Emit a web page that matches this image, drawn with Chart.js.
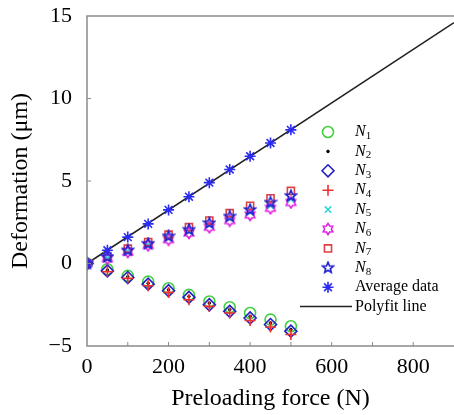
<!DOCTYPE html>
<html>
<head>
<meta charset="utf-8">
<script src="https://cdn.jsdelivr.net/npm/chart.js@4"></script>
<style>
  html, body { margin: 0; padding: 0; background: #fff; overflow: hidden; }
</style>
</head>
<body>
<canvas id="c" width="454" height="415"></canvas>
<script>
// preloading force (N)
const force = [0, 50, 100, 150, 200, 250, 300, 350, 400, 450, 500];
// deformation (um) of each unit
const n1 = [0, -0.35, -0.75, -1.1, -1.5, -1.9, -2.3, -2.65, -3.0, -3.4, -3.8];
const n2 = [0, -0.4, -0.8, -1.2, -1.6, -2.0, -2.4, -2.8, -3.2, -3.6, -4.0];
const n3 = [0, -0.45, -0.85, -1.25, -1.65, -2.05, -2.5, -2.9, -3.3, -3.7, -4.1];
const n4 = [0, -0.5, -0.9, -1.35, -1.75, -2.2, -2.6, -3.0, -3.45, -3.85, -4.3];
const n5 = [0, 0.35, 0.75, 1.15, 1.55, 1.95, 2.35, 2.75, 3.1, 3.5, 3.9];
const n6 = [0, 0.3, 0.7, 1.1, 1.45, 1.85, 2.2, 2.6, 2.95, 3.35, 3.7];
const n7 = [0, 0.45, 0.9, 1.3, 1.75, 2.2, 2.6, 3.05, 3.5, 3.95, 4.4];
const n8 = [0, 0.4, 0.8, 1.2, 1.65, 2.05, 2.45, 2.85, 3.25, 3.7, 4.1];
const average = [0, 0.8, 1.6, 2.4, 3.25, 4.05, 4.9, 5.7, 6.5, 7.3, 8.1];
// fitted line end points
const fitX = [0, 900];
const fitY = [0, 14.6];
const yTicks = [-5, 0, 5, 10, 15];

const SERIF = '"Liberation Serif", "Times New Roman", serif';

function marker(size, draw) {
  const cv = document.createElement("canvas");
  cv.width = size; cv.height = size;
  const g = cv.getContext("2d");
  draw(g, size / 2);
  return cv;
}
function starPath(g, c, ro, ri, n, rot) {
  g.beginPath();
  for (let i = 0; i < n * 2; i++) {
    const r = i % 2 ? ri : ro;
    const a = rot + i * Math.PI / n;
    const px = c + r * Math.cos(a), py = c + r * Math.sin(a);
    i ? g.lineTo(px, py) : g.moveTo(px, py);
  }
  g.closePath();
}
const hexagram = marker(14, (g, c) => {
  starPath(g, c, 5.5, 3.4, 6, -Math.PI / 2);
  g.strokeStyle = "#e020e0"; g.lineWidth = 1.6; g.stroke();
});
const pentagram = marker(14, (g, c) => {
  starPath(g, c, 5.6, 2.5, 5, -Math.PI / 2);
  g.strokeStyle = "#2020d0"; g.lineWidth = 1.6; g.stroke();
});

const pts = ys => force.map((x, i) => ({ x: x, y: ys[i] }));

const series = [
  { label: "N1", data: pts(n1), pointStyle: "circle", radius: 5.5, borderColor: "#40d040", borderWidth: 1.6 },
  { label: "N2", data: pts(n2), pointStyle: "circle", radius: 1.3, borderColor: "#000", backgroundColor: "#000", borderWidth: 1 },
  { label: "N3", data: pts(n3), pointStyle: "rectRot", radius: 6, borderColor: "#2020c0", borderWidth: 1.6 },
  { label: "N4", data: pts(n4), pointStyle: "cross", radius: 5.5, borderColor: "#f03030", borderWidth: 1.6 },
  { label: "N5", data: pts(n5), pointStyle: "crossRot", radius: 4.5, borderColor: "#30d8d8", borderWidth: 1.6 },
  { label: "N6", data: pts(n6), pointStyle: hexagram, radius: 6, borderColor: "#e020e0" },
  { label: "N7", data: pts(n7), pointStyle: "rect", radius: 5, borderColor: "#e04040", borderWidth: 1.6 },
  { label: "N8", data: pts(n8), pointStyle: pentagram, radius: 6, borderColor: "#2020d0" },
  { label: "Average data", data: pts(average), pointStyle: "star", radius: 5.5, borderColor: "#2a2af0", borderWidth: 1.6 }
];

const datasets = series.map((s, i) => ({
  type: "scatter",
  label: s.label,
  data: s.data,
  pointStyle: s.pointStyle,
  pointRadius: s.radius,
  pointBorderColor: s.borderColor,
  pointBackgroundColor: s.backgroundColor || "rgba(0,0,0,0)",
  pointBorderWidth: s.borderWidth || 1,
  order: 20 - i
}));
datasets.push({
  type: "line",
  label: "Polyfit line",
  data: fitX.map((x, i) => ({ x: x, y: fitY[i] })),
  borderColor: "#222",
  borderWidth: 1.5,
  pointRadius: 0,
  order: 30
});

// frame, inward ticks and the legend with subscripts
const decor = {
  id: "decor",
  afterDraw(chart) {
    const { ctx, chartArea: a, scales: { x, y } } = chart;
    ctx.save();
    ctx.strokeStyle = "#8a8a8a";
    ctx.lineWidth = 1.5;
    ctx.beginPath();
    ctx.moveTo(a.right, a.top); ctx.lineTo(a.left, a.top);
    ctx.lineTo(a.left, a.bottom); ctx.lineTo(a.right, a.bottom);
    ctx.stroke();
    ctx.lineWidth = 1;
    ctx.beginPath();
    for (let v = 100; v < 900; v += 100) {
      const px = x.getPixelForValue(v);
      ctx.moveTo(px, a.bottom); ctx.lineTo(px, a.bottom - 4);
    }
    yTicks.slice(1, -1).forEach(v => {
      const py = y.getPixelForValue(v);
      ctx.moveTo(a.left, py); ctx.lineTo(a.left + 4, py);
    });
    ctx.stroke();

    // legend
    const lx = 328, tx = 355, top = 132, step = 19.4;
    ctx.fillStyle = "#fff";
    ctx.fillRect(314, 120, 140, 200);
    series.forEach((s, i) => {
      const cy = top + i * step;
      ctx.save();
      ctx.strokeStyle = s.borderColor;
      ctx.fillStyle = s.backgroundColor || "rgba(0,0,0,0)";
      ctx.lineWidth = s.borderWidth || 1;
      Chart.helpers.drawPoint(ctx, { pointStyle: s.pointStyle, radius: s.radius, rotation: 0, borderWidth: s.borderWidth || 1 }, lx, cy);
      ctx.restore();
      ctx.fillStyle = "#000";
      ctx.textBaseline = "middle";
      ctx.textAlign = "left";
      if (s.label[0] === "N") {
        ctx.font = "italic 16px " + SERIF;
        ctx.fillText("N", tx, cy);
        const w = ctx.measureText("N").width;
        ctx.font = "11px " + SERIF;
        ctx.fillText(s.label.slice(1), tx + w, cy + 4);
      } else {
        ctx.font = "16px " + SERIF;
        ctx.fillText(s.label, tx, cy);
      }
    });
    const ly = top + series.length * step;
    ctx.strokeStyle = "#222"; ctx.lineWidth = 1.5;
    ctx.beginPath(); ctx.moveTo(300, ly); ctx.lineTo(352, ly); ctx.stroke();
    ctx.font = "16px " + SERIF;
    ctx.fillStyle = "#000";
    ctx.fillText("Polyfit line", tx, ly);
    ctx.restore();
  }
};

new Chart(document.getElementById("c"), {
  data: { datasets: datasets },
  options: {
    responsive: false,
    animation: false,
    layout: { autoPadding: false, padding: { top: 16, right: 0, left: 0, bottom: 0 } },
    plugins: { legend: { display: false }, tooltip: { enabled: false } },
    scales: {
      x: {
        type: "linear",
        min: 0, max: 900,
        grid: { display: false },
        border: { display: false },
        ticks: {
          stepSize: 100, autoSkip: false, maxRotation: 0, padding: 0,
          color: "#000", font: { family: SERIF, size: 22 },
          callback: v => (v % 200 === 0 && v < 900 ? String(v) : "")
        },
        title: { display: true, text: "Preloading force (N)", color: "#000", font: { family: SERIF, size: 24 }, padding: { top: 0, bottom: 2 } },
        afterFit: s => { s.height = 69; s.paddingRight = 0; s.paddingLeft = 0; }
      },
      y: {
        type: "linear",
        min: -5, max: 15,
        grid: { display: false },
        border: { display: false },
        afterBuildTicks: s => { s.ticks = yTicks.map(v => ({ value: v })); },
        ticks: {
          padding: 7, color: "#000", font: { family: SERIF, size: 22 },
          callback: v => String(v).replace("-", "\u2212")
        },
        title: { display: true, text: "Deformation (\u03bcm)", color: "#000", font: { family: SERIF, size: 24 }, padding: { top: 6, bottom: 0 } },
        afterFit: s => { s.width = 87; s.paddingTop = 0; s.paddingBottom = 0; }
      }
    }
  },
  plugins: [decor]
});
</script>
</body>
</html>
